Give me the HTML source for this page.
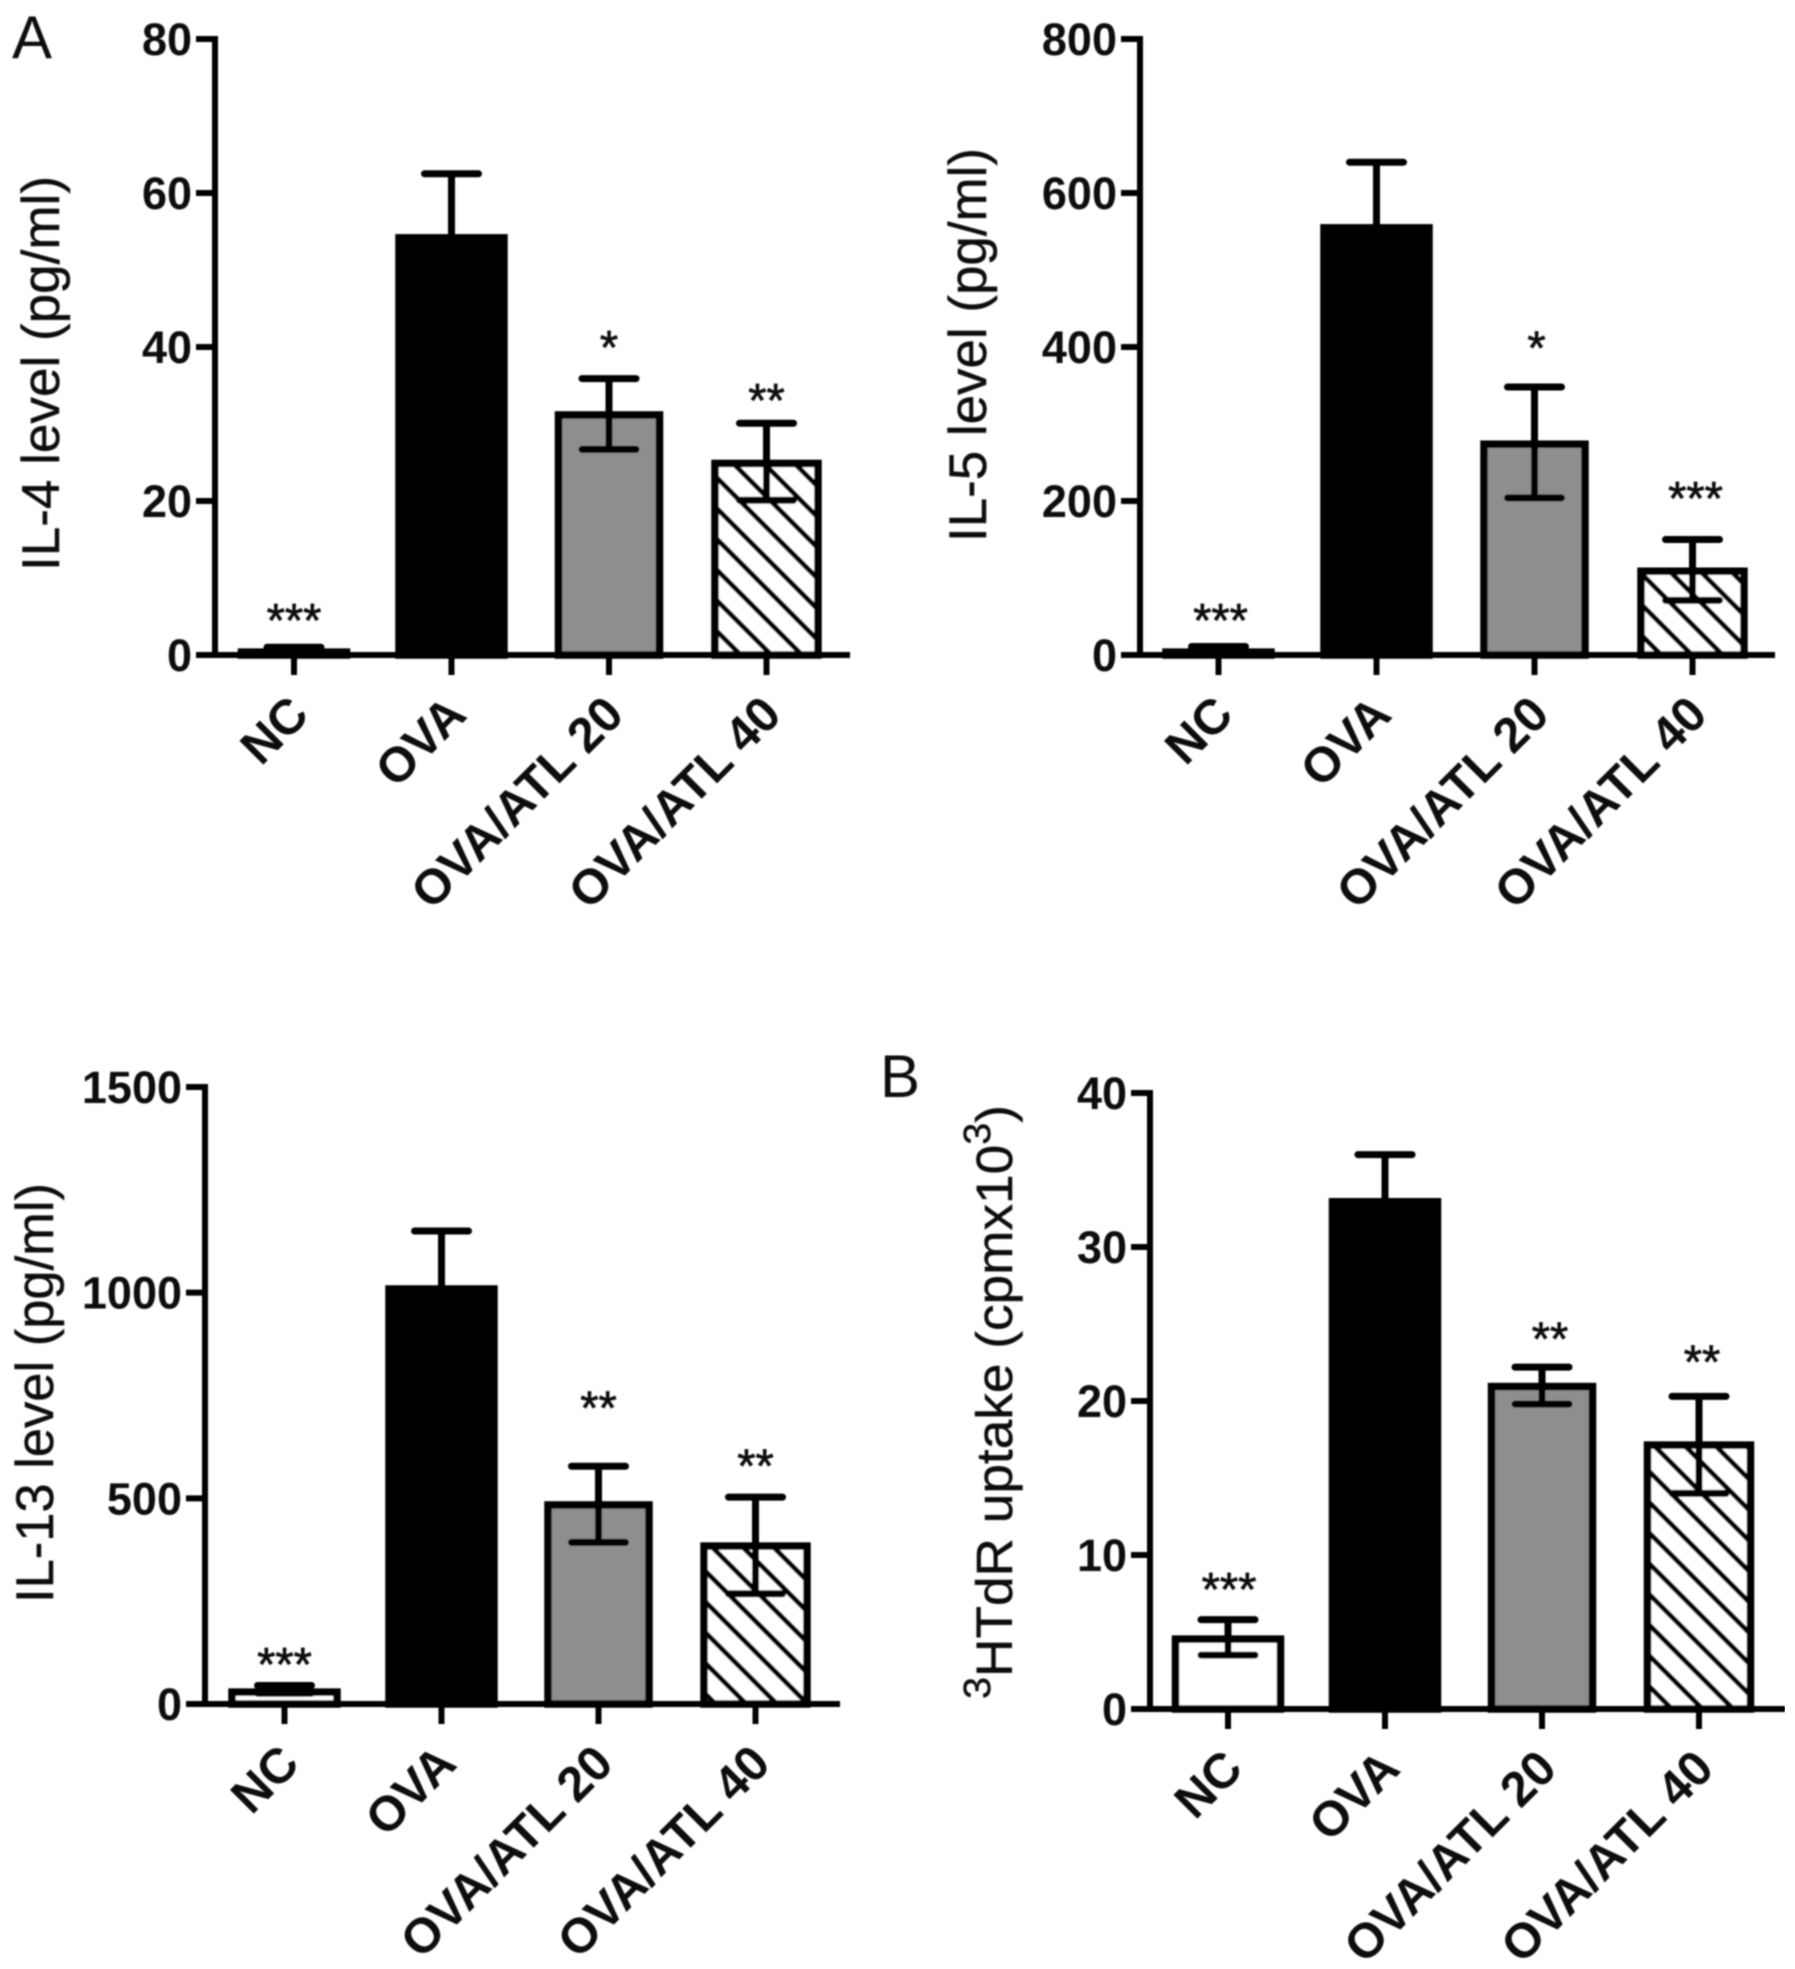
<!DOCTYPE html>
<html lang="en">
<head>
<meta charset="utf-8">
<title>Cytokine levels and 3HTdR uptake bar charts</title>
<style>
html,body{margin:0;padding:0;background:#fff;}
svg{display:block;}
text{font-family:"Liberation Sans",sans-serif;fill:#111;}
</style>
</head>
<body>
<svg id="figure" xmlns="http://www.w3.org/2000/svg" width="1795" height="1969" viewBox="0 0 1795 1969">
  <defs>
    <pattern id="hatch" patternUnits="userSpaceOnUse" width="21.7" height="21.7" patternTransform="rotate(45)">
      <rect width="21.7" height="21.7" fill="#fff"></rect>
      <rect y="2" width="21.7" height="5" fill="#000"></rect>
    </pattern>
    <filter id="soft" x="0" y="0" width="100%" height="100%" filterUnits="objectBoundingBox">
      <feGaussianBlur stdDeviation="0.8"></feGaussianBlur>
    </filter>
  </defs>
  <rect width="1795" height="1969" fill="#fff"></rect>
  <g id="root" filter="url(#soft)">
    <text x="12" y="58" font-size="60">A</text>
    <text x="880" y="1097" font-size="60">B</text>
  </g>
</svg>
<script>
const categories = ["NC", "OVA", "OVA/ATL 20", "OVA/ATL 40"];

const il4Ticks = [0, 20, 40, 60, 80];
const il4Values = [0.7, 54.5, 31.5, 25.2];
const il4ErrHigh = [1.0, 62.5, 35.9, 30.1];
const il4ErrLow = [0.6, 54.5, 26.7, 20.1];
const il4Stars = ["***", "", "*", "**"];

const il5Ticks = [0, 200, 400, 600, 800];
const il5Values = [7, 558, 277, 112];
const il5ErrHigh = [11, 640, 348, 150];
const il5ErrLow = [6, 558, 204, 71];
const il5Stars = ["***", "", "*", "***"];

const il13Ticks = [0, 500, 1000, 1500];
const il13Values = [35, 1015, 490, 390];
const il13ErrHigh = [45, 1150, 578, 503];
const il13ErrLow = [26, 1015, 393, 268];
const il13Stars = ["***", "", "**", "**"];

const uptakeTicks = [0, 10, 20, 30, 40];
const uptakeValues = [4.7, 33.1, 21.1, 17.3];
const uptakeErrHigh = [5.8, 36.0, 22.2, 20.3];
const uptakeErrLow = [3.5, 33.1, 19.8, 14.0];
const uptakeStars = ["***", "", "**", "**"];

const barFills = ["#fff", "#000", "#8e8e8e", "url(#hatch)"];
const SVG_NS = "http://www.w3.org/2000/svg";
const root = document.getElementById("root");

function addLine(parent, x1, y1, x2, y2, width, name, cap) {
  const el = document.createElementNS(SVG_NS, "line");
  el.setAttribute("x1", x1);
  el.setAttribute("y1", y1);
  el.setAttribute("x2", x2);
  el.setAttribute("y2", y2);
  el.setAttribute("stroke", "#000");
  el.setAttribute("stroke-width", width);
  el.setAttribute("stroke-linecap", cap || "butt");
  
  
  parent.appendChild(el);
  return el;
}

function addText(parent, x, y, size, str, name, extra) {
  const el = document.createElementNS(SVG_NS, "text");
  el.setAttribute("x", x);
  el.setAttribute("y", y);
  el.setAttribute("font-size", size);
  
  
  if (extra) {
    for (const key in extra) el.style[key] = extra[key];
  }
  el.textContent = str;
  parent.appendChild(el);
  return el;
}

function drawPanel(layout, ticks, values, errHigh, errLow, stars, slug) {
  const g = document.createElementNS(SVG_NS, "g");
  
  
  root.appendChild(g);

  const maxTick = ticks[ticks.length - 1];
  const yScale = function (v) {
    return layout.y0 - (v / maxTick) * (layout.y0 - layout.yTop);
  };
  const xScale = function (i) {
    return layout.cat0 + i * layout.step;
  };

  // y axis line and ticks
  addLine(g, layout.axisX, layout.y0, layout.axisX, layout.yTop - 3, 6, slug + "-y-axis");
  ticks.forEach(function (t) {
    const y = yScale(t);
    addLine(g, layout.axisX - 19, y, layout.axisX, y, 6, slug + "-y-tick");
    const label = addText(g, layout.axisX - 23, y + 16, 45, String(t), slug + "-y-tick-label", { fontWeight: "bold" });
    label.setAttribute("text-anchor", "end");
  });

  // bars and error bars
  categories.forEach(function (cat, i) {
    const cx = xScale(i);
    const top = yScale(values[i]) + 2.5;
    const barWidth = [105, 105, 101, 103][i];
    const bar = document.createElementNS(SVG_NS, "rect");
    bar.setAttribute("x", cx - barWidth / 2);
    bar.setAttribute("y", top);
    bar.setAttribute("width", barWidth);
    bar.setAttribute("height", Math.max(0, layout.y0 - top));
    bar.setAttribute("fill", barFills[i]);
    bar.setAttribute("stroke", "#000");
    bar.setAttribute("stroke-width", 7.5);
    
    
    g.appendChild(bar);

    const hi = yScale(errHigh[i]);
    const lo = yScale(errLow[i]);
    addLine(g, cx, hi, cx, lo, 7, slug + "-error-stem-" + i);
    addLine(g, cx - 27, hi, cx + 27, hi, 7, slug + "-error-cap-high-" + i, "round");
    if (errLow[i] < values[i]) {
      addLine(g, cx - 27, lo, cx + 27, lo, 7, slug + "-error-cap-low-" + i, "round");
    }

    addLine(g, cx, layout.y0, cx, layout.y0 + 20, 6, slug + "-x-tick-" + i);

    const lx = cx + 17;
    const ly = layout.y0 + 62;
    const label = addText(g, lx, ly, 49, cat, slug + "-x-label-" + i, { fontWeight: "bold" });
    label.setAttribute("text-anchor", "end");
    label.setAttribute("transform", "rotate(-45 " + lx + " " + ly + ")");

    if (stars[i]) {
      const s = addText(g, cx + layout.starDx[i], hi - layout.starGap[i] + 26, 47, stars[i], slug + "-significance-" + i, { stroke: "#111", strokeWidth: "0.7px" });
      s.setAttribute("text-anchor", "middle");
    }
  });

  // x axis drawn last so it sits on top of the bars
  addLine(g, layout.axisX - 19, layout.y0, layout.xEnd, layout.y0, 6, slug + "-x-axis");

  // y axis title
  const title = addText(g, layout.titleX, layout.titleY, layout.titleSize, "", slug + "-y-axis-title", { stroke: "#111", strokeWidth: "0.4px" });
  title.setAttribute("text-anchor", "start");
  title.setAttribute("transform", "rotate(-90 " + layout.titleX + " " + layout.titleY + ")");
  layout.titleParts.forEach(function (part) {
    const span = document.createElementNS(SVG_NS, "tspan");
    span.textContent = part.text;
    if (part.sup) {
      span.setAttribute("font-size", 38);
      span.setAttribute("dy", -22);
    } else if (part.after) {
      span.setAttribute("dy", 22);
    }
    title.appendChild(span);
  });
  title.setAttribute("textLength", layout.titleLen);
  title.setAttribute("lengthAdjust", "spacingAndGlyphs");
}

drawPanel({ axisX: 215, yTop: 39, y0: 655, xEnd: 850, cat0: 294, step: 157.5,
  titleX: 59, titleY: 571, titleLen: 395, titleSize: 53,
  titleParts: [{ text: "IL-4 level (pg/ml)" }],
  starGap: [37, 0, 41, 32.5], starDx: [0, 0, 0, 0] }, il4Ticks, il4Values, il4ErrHigh, il4ErrLow, il4Stars, "il4");

drawPanel({ axisX: 1140, yTop: 39, y0: 655, xEnd: 1775, cat0: 1218.5, step: 158,
  titleX: 986, titleY: 542, titleLen: 394, titleSize: 53,
  titleParts: [{ text: "IL-5 level (pg/ml)" }],
  starGap: [36, 0, 49, 51], starDx: [2, 0, 2, 3] }, il5Ticks, il5Values, il5ErrHigh, il5ErrLow, il5Stars, "il5");

drawPanel({ axisX: 205, yTop: 1087, y0: 1704, xEnd: 840, cat0: 284.5, step: 157,
  titleX: 53, titleY: 1603, titleLen: 420, titleSize: 53,
  titleParts: [{ text: "IL-13 level (pg/ml)" }],
  starGap: [31, 0, 68, 41], starDx: [0, 0, 0, 0] }, il13Ticks, il13Values, il13ErrHigh, il13ErrLow, il13Stars, "il13");

drawPanel({ axisX: 1150, yTop: 1093, y0: 1709, xEnd: 1785, cat0: 1228, step: 157,
  titleX: 1012, titleY: 1699, titleLen: 594, titleSize: 51,
  titleParts: [{ text: "3", sup: true }, { text: "HTdR uptake (cpmx10", after: true }, { text: "3", sup: true }, { text: ")", after: true }],
  starGap: [40, 0, 38, 44.5], starDx: [1, 0, 8, 3] }, uptakeTicks, uptakeValues, uptakeErrHigh, uptakeErrLow, uptakeStars, "uptake");
</script>
</body>
</html>
